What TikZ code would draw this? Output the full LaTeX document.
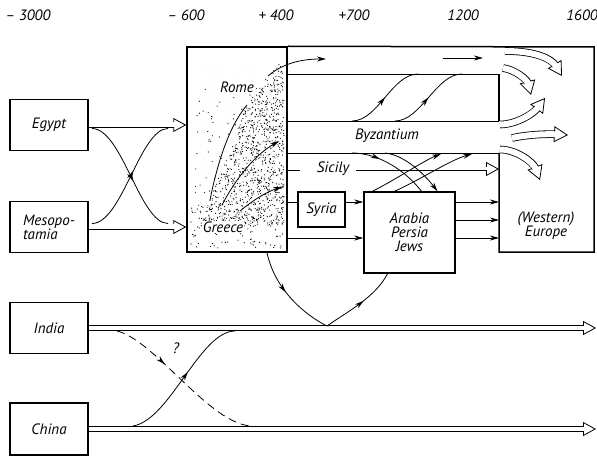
\documentclass[tikz,border=0pt]{standalone}
\usepackage{fontspec}
\setmainfont{PT Sans}
\usetikzlibrary{arrows.meta,positioning,decorations.markings}

\newcommand\figfont{\fontsize{15}{14}\selectfont\itshape}

\tikzset{
  box/.style={draw, line width=1.5pt, minimum width=78pt, minimum height=51pt, font=\figfont},
  lbl/.style={font=\figfont},
  flow/.style={line width=0.8pt},
  flowto/.style={flow, -{Stealth[length=9pt,width=5pt]}},
  midarrow/.style={postaction={decorate}, decoration={markings,
      mark=at position #1 with {\arrow{Stealth[length=9pt,width=5pt]}}}},
  headtip/.style={line width=0.8pt, -{Triangle[open, length=13pt, width=14pt]}},
  fanhead/.style={line width=0.8pt, -{Triangle[open, length=14pt, width=16pt]}},
  shaftout/.style={line width={#1+1.6pt}, shorten >=12pt},
  shaftin/.style={white, line width=#1, shorten >=11.2pt},
  year/.style={font=\figfont, anchor=base},
}
\newcommand\broadarrow[2][4pt]{%
  \draw[headtip] #2;
  \draw[shaftout=#1] #2;
  \draw[shaftin=#1] #2;}
\newcommand\fanarrow[1]{%
  \draw[fanhead] #1;
  \draw[shaftout=6pt, shorten >=13pt] #1;
  \draw[shaftin=6pt, shorten >=12.2pt] #1;}

\begin{document}
\begin{tikzpicture}[x=1pt, y=-1pt]
  \useasboundingbox (0,0) rectangle (597,457);

  % time axis
  \node[year] (t3000) at (28,21) {– 3000};
  \node[year] (t600) at (186,21) {– 600};
  \node[year] (t400) at (276,21) {+ 400};
  \node[year] (t700) at (354,21) {+700};
  \node[year] (t1200) at (463,21) {1200};
  \node[year] (t1600) at (582,21) {1600};

  % old cultures
  \node[box] (egypt) at (49,125) {Egypt};
  \node[box, align=left] (meso) at (49,227) {Mesopo-\\tamia};
  \node[box] (india) at (49,328) {India};
  \node[box, minimum height=52pt] (china) at (49,429) {China};

  % Greece / Rome block with stippling
  \node[box, minimum width=100pt, minimum height=205pt] (gr) at (237,149.5) {};
  \pgfmathsetseed{42}
  \foreach \k in {1,...,1500}{
    \pgfmathsetmacro\xx{200+84*rnd}
    \pgfmathsetmacro\yy{62+164*rnd}
    \pgfmathsetmacro\xl{\yy>105 ? 210+(200-\yy)*0.39 : 247+(105-\yy)*0.72}
    \pgfmathsetmacro\rr{\xx>\xl ? 0.6 : 0}
    \fill (\xx,\yy) circle[radius=\rr pt];
  }
  \foreach \k in {1,...,170}{
    \pgfmathsetmacro\xx{191+93*rnd}
    \pgfmathsetmacro\yy{88+160*rnd}
    \fill (\xx,\yy) circle[radius=0.6pt];
  }
  \foreach \k in {1,...,70}{
    \pgfmathsetmacro\xx{191+93*rnd}
    \pgfmathsetmacro\yy{205+44*rnd}
    \fill (\xx,\yy) circle[radius=0.6pt];
  }
  \draw[flow] (210,200) .. controls (218,160) and (230,125) .. (247,105);
  \draw[flowto] (268,76) .. controls (282,64) and (300,59) .. (326,59);
  \draw[flowto] (222,205) .. controls (236,178) and (255,155) .. (279,141);
  \draw[flowto] (240,211) .. controls (252,201) and (266,192) .. (282,187);
  \node[lbl, fill=white, inner sep=1pt] (rome) at (237,87) {Rome};
  \node[lbl, fill=white, inner sep=1pt] (greece) at (223,227) {Greece};

  % into Greece
  \broadarrow[5pt]{(egypt.east) -- (gr.west |- egypt.east)}
  \broadarrow[5pt]{(meso.east) -- (gr.west |- meso.east)}
  \draw[flow, midarrow=0.55] (92,128.5) .. controls (122,128.5) and (140,223.5) .. (168,223.5);
  \draw[flow, midarrow=0.55] (92,223.5) .. controls (122,223.5) and (140,128.5) .. (168,128.5);

  % Europe fan
  \fanarrow{(505,51) .. controls (538,51) and (552,60) .. (562,76)}
  \fanarrow{(503,68) .. controls (516,70) and (527,80) .. (531,95)}
  \fanarrow{(500,124.5) .. controls (516,124.5) and (533,114) .. (545,98)}
  \fanarrow{(512,138) .. controls (530,134) and (550,134) .. (568,135)}
  \fanarrow{(500,149.5) .. controls (516,149.5) and (533,162) .. (540,180)}
  \draw[line width=1.5pt] (gr.north east) -- (594,47) -- (594,252) -- (499,252) -- (499,153);
  \draw[line width=1.5pt] (499,121) -- (499,74);
  \node[lbl, align=center] (eu) at (546,226) {(Western)\\Europe};

  % bands
  \coordinate (b1) at (499,74);
  \coordinate (b2) at (499,121);
  \coordinate (b3) at (499,153);
  \foreach \b in {b1,b2,b3} \draw[flow] (gr.east |- \b) -- (\b);
  \draw[flowto] (443,58) -- (483,58);
  \draw[flow, midarrow=0.5] (352,121) .. controls (378,121) and (392,74) .. (418,74);
  \draw[flow, midarrow=0.5] (395,121) .. controls (421,121) and (436,74) .. (462,74);
  \node[lbl] (byz) at (387,136) {Byzantium};

  % Sicily
  \node[lbl] (sicily) at (333,169) {Sicily};
  \coordinate (sic1) at (300,169);
  \coordinate (sic2) at (356,169);
  \draw[line width=4.6pt] (gr.east |- sicily) -- (sic1);
  \draw[white, line width=3pt] (gr.east |- sicily) -- (sic1);
  \broadarrow[3pt]{(sic2) -- (b3 |- sicily)}

  % Syria, Arabia
  \node[box, minimum width=47pt, minimum height=35pt] (syria) at (321.5,209.5) {Syria};
  \node[box, minimum width=91pt, minimum height=81pt, align=center] (arabia) at (409.5,232.5) {Arabia\\Persia\\Jews};
  \coordinate (r1) at (499,202);
  \coordinate (r2) at (499,220);
  \coordinate (r3) at (499,238);
  \draw[flow] (gr.east |- r1) -- (syria.west |- r1);
  \draw[flowto] (syria.east |- r1) -- (arabia.west |- r1);
  \draw[flowto] (gr.east |- r3) -- (arabia.west |- r3);
  \foreach \r in {r1,r2,r3} \draw[flowto] (arabia.east |- \r) -- (\r);

  % Byzantium <-> Arabia
  \draw[flow, midarrow=0.35] (352,153) .. controls (378,153) and (405,170) .. ([xshift=12pt]arabia.north);
  \draw[flowto] (385,153) .. controls (405,155) and (425,175) .. ([xshift=28pt]arabia.north);
  \draw[flowto] ([xshift=-37pt]arabia.north) .. controls (395,180) and (425,160) .. (441,154);
  \draw[flowto] ([xshift=-15pt]arabia.north) .. controls (420,180) and (450,160) .. (472,154);

  % India, China
  \coordinate (ie) at (596,328);
  \coordinate (ce) at (596,429);
  \coordinate (v) at (327,326);
  \broadarrow{(india.east) -- (ie)}
  \broadarrow{(china.east) -- (ce)}
  \draw[flow, midarrow=0.45] ([xshift=30pt]gr.south) .. controls (275,290) and (305,315) .. (v);
  \draw[flow, midarrow=0.55] (v) .. controls (345,313) and (375,298) .. ([xshift=-22pt]arabia.south);
  \draw[flow, dash pattern=on 8pt off 5pt, midarrow=0.35] (117,331) .. controls (155,340) and (210,425) .. (252,426);
  \draw[flow, midarrow=0.55] (133,426) .. controls (170,420) and (200,331) .. (235,331);
  \node[lbl] (q) at (176,348) {?};
\end{tikzpicture}
\end{document}
